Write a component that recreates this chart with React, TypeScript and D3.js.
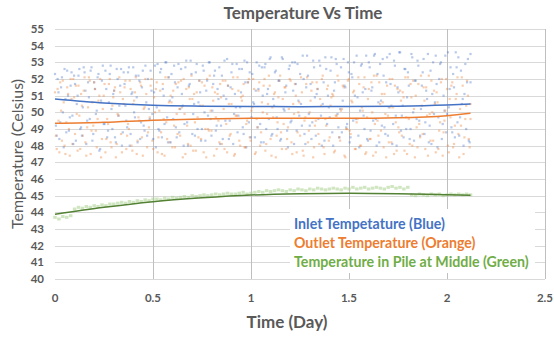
import React from 'react';
import * as d3 from 'd3';

// axis ticks
const xTicks = [0, 0.5, 1, 1.5, 2, 2.5];
const yTicks = [40, 41, 42, 43, 44, 45, 46, 47, 48, 49, 50, 51, 52, 53, 54, 55];

// samples are evenly spaced in time from day 0 to this day
const lastDay = 2.12;

// inlet readings (Celsius), two interleaved runs of samples
const inletValues = [
  52.3, 48.6, 51.2, 49.4, 52.1, 47.9, 50.8, 52.5, 48.9, 51.6,
  49.8, 52.2, 48.3, 51.0, 52.6, 49.1, 50.3, 52.4, 48.1, 51.8,
  49.6, 52.7, 48.7, 51.4, 50.1, 52.3, 47.8, 51.9, 49.3, 52.5,
  48.5, 50.6, 52.8, 49.0, 51.3, 48.2, 52.0, 50.4, 52.6, 48.8,
  51.7, 49.5, 52.4, 48.0, 51.1, 52.7, 49.7, 50.9, 52.2, 48.4,
  51.5, 49.2, 52.8, 48.6, 50.2, 52.5, 49.9, 51.2, 47.9, 52.9,
  48.9, 52.6, 51.4, 49.3, 53.0, 48.2, 50.7, 52.3, 49.6, 51.8,
  48.5, 52.9, 50.2, 51.1, 48.0, 52.7, 49.4, 51.6, 53.1, 48.7,
  50.5, 52.4, 49.0, 51.9, 48.3, 52.8, 50.0, 51.3, 49.8, 53.0,
  48.6, 51.7, 52.5, 49.2, 50.8, 48.1, 52.2, 51.0, 49.5, 53.2,
  48.4, 51.5, 52.9, 49.9, 50.3, 48.8, 52.6, 51.2, 49.1, 53.1,
  47.9, 51.8, 52.4, 49.7, 50.6, 48.5, 53.0, 51.4, 49.3, 52.7,
  48.2, 52.9, 51.1, 49.6, 53.3, 48.7, 50.4, 52.5, 49.0, 51.9,
  48.4, 53.2, 50.1, 51.6, 47.9, 52.8, 49.5, 51.3, 53.0, 48.9,
  50.7, 52.3, 49.2, 52.0, 48.1, 53.4, 49.9, 51.7, 49.4, 52.7,
  48.6, 51.4, 53.1, 49.8, 50.5, 48.3, 52.6, 51.0, 49.7, 53.3,
  48.0, 51.8, 52.9, 49.1, 50.2, 48.8, 53.2, 51.5, 49.3, 52.4,
  48.5, 52.1, 53.0, 49.6, 50.9, 47.9, 52.8, 51.2, 49.0, 53.4,
  48.3, 52.7, 51.3, 49.5, 53.5, 48.0, 50.6, 52.9, 49.2, 52.2,
  48.7, 53.3, 50.3, 51.7, 48.1, 53.1, 49.8, 51.5, 53.6, 48.9,
  50.4, 52.6, 49.0, 52.4, 48.4, 53.5, 50.0, 51.9, 49.6, 52.8,
  48.6, 51.6, 53.2, 49.4, 50.8, 48.2, 52.5, 51.1, 49.9, 53.4,
  47.9, 52.0, 53.0, 49.3, 50.1, 48.8, 53.6, 51.4, 49.1, 52.3,
  48.5, 52.7, 53.3, 49.7, 50.5, 48.0, 52.9, 51.8, 48.3, 53.5,
];
const inletValuesB = [
  49.2, 52.0, 48.4, 51.5, 50.0, 52.6, 48.8, 51.0, 49.7, 52.4,
  48.1, 51.7, 50.5, 52.2, 49.0, 48.6, 52.7, 51.3, 49.5, 50.9,
  52.5, 48.3, 51.8, 49.9, 52.1, 47.7, 50.7, 52.8, 49.3, 51.4,
  48.9, 52.3, 50.2, 51.1, 48.5, 52.6, 49.8, 51.6, 48.0, 52.4,
  50.4, 49.1, 52.7, 48.7, 51.2, 50.0, 52.2, 48.2, 51.9, 49.4,
  52.5, 48.9, 50.6, 52.0, 49.6, 51.3, 48.4, 52.8, 50.3, 49.0,
  52.4, 48.5, 51.0, 53.0, 49.7, 52.1, 48.2, 50.9, 52.8, 49.1,
  51.5, 48.8, 52.6, 50.4, 49.3, 53.1, 48.0, 51.7, 52.3, 49.9,
  48.6, 52.9, 50.6, 51.2, 49.0, 52.5, 48.3, 51.9, 53.0, 49.6,
  50.1, 52.2, 48.9, 51.4, 52.7, 49.2, 48.4, 53.1, 50.8, 51.6,
  49.5, 52.4, 48.1, 51.1, 52.9, 49.8, 50.3, 52.6, 48.7, 51.8,
  53.0, 49.4, 48.5, 52.3, 50.5, 51.3, 49.1, 52.8, 48.2, 51.0,
  52.7, 49.0, 51.4, 53.2, 48.6, 50.8, 52.4, 49.7, 51.9, 48.3,
  53.3, 50.2, 51.2, 48.9, 52.6, 49.4, 53.0, 48.1, 51.7, 52.9,
  49.8, 50.5, 53.4, 48.7, 51.5, 52.2, 49.2, 48.4, 53.1, 50.9,
  51.1, 49.6, 52.8, 48.0, 51.8, 53.3, 49.3, 50.3, 52.5, 48.8,
  51.3, 53.2, 49.9, 48.5, 52.7, 50.7, 51.6, 49.1, 53.0, 48.2,
  52.3, 49.5, 51.0, 53.4, 48.6, 50.1, 52.9, 49.8, 51.4, 48.4,
  53.0, 48.9, 51.5, 53.4, 49.6, 52.3, 48.2, 50.7, 53.2, 49.1,
  51.8, 48.6, 53.5, 50.4, 49.3, 52.8, 48.0, 51.2, 53.6, 49.8,
  48.5, 52.6, 50.9, 51.6, 49.0, 53.3, 48.3, 51.9, 53.1, 49.5,
  50.2, 52.4, 48.7, 51.3, 53.5, 49.2, 48.1, 53.0, 50.6, 51.7,
  49.7, 52.9, 48.4, 51.0, 53.4, 49.9, 50.3, 52.7, 48.8, 51.5,
  53.6, 49.4, 48.6, 52.5, 50.8, 51.1, 49.0, 53.2, 48.2, 51.8,
];

// outlet readings (Celsius), two interleaved runs of samples
const outletValues = [
  51.2, 47.8, 49.5, 51.8, 48.3, 50.6, 47.5, 51.5, 49.0, 52.0,
  48.1, 50.9, 51.6, 47.7, 49.8, 51.1, 48.6, 52.1, 47.4, 50.3,
  51.9, 48.9, 49.2, 51.4, 47.9, 50.7, 52.0, 48.4, 51.0, 47.6,
  49.6, 51.7, 48.2, 50.4, 51.3, 47.3, 49.9, 52.1, 48.7, 50.8,
  51.5, 47.8, 49.3, 51.9, 48.0, 50.5, 51.2, 47.5, 49.7, 51.8,
  48.5, 50.2, 52.0, 47.9, 49.1, 51.6, 48.3, 50.9, 51.4, 47.6,
  50.1, 48.8, 51.7, 47.4, 49.4, 52.1, 48.2, 50.6, 51.3, 47.9,
  49.9, 51.8, 48.6, 50.3, 52.0, 47.5, 49.2, 51.5, 48.0, 50.8,
  51.1, 47.7, 49.7, 51.9, 48.4, 50.4, 51.6, 47.3, 49.0, 52.2,
  48.9, 50.7, 51.2, 47.8, 49.5, 51.7, 48.1, 50.2, 51.9, 47.6,
  50.5, 48.7, 51.4, 47.4, 49.8, 52.1, 48.3, 50.9, 51.0, 47.9,
  49.3, 51.8, 48.5, 50.1, 52.0, 47.5, 49.6, 51.3, 48.0, 50.6,
  51.6, 47.7, 49.9, 52.2, 48.4, 50.3, 51.1, 47.3, 49.4, 51.9,
  48.8, 50.8, 51.5, 47.8, 49.1, 52.0, 48.2, 50.5, 51.7, 47.6,
  50.0, 48.6, 51.2, 47.4, 49.7, 52.1, 48.9, 50.7, 51.8, 47.9,
  49.5, 51.4, 48.1, 50.4, 52.2, 47.5, 49.2, 51.6, 48.5, 50.9,
  51.0, 47.7, 49.8, 51.9, 48.3, 50.2, 51.5, 47.3, 49.0, 52.0,
  48.7, 50.6, 51.3, 47.8, 49.6, 51.7, 48.0, 50.1, 52.1, 47.6,
  50.8, 48.4, 51.8, 47.4, 49.3, 52.2, 48.6, 50.5, 51.1, 47.9,
  49.9, 51.6, 48.2, 50.3, 52.0, 47.5, 49.4, 51.4, 48.8, 50.7,
  51.2, 47.7, 49.7, 52.1, 48.1, 50.9, 51.9, 47.3, 49.1, 51.7,
  48.5, 50.4, 51.5, 47.8, 49.8, 52.2, 48.3, 50.0, 51.3, 47.6,
  50.6, 48.9, 51.8, 47.4, 49.5, 52.0, 48.0, 50.8, 51.6, 47.9,
  49.2, 51.1, 48.7, 50.2, 52.1, 47.5, 49.6, 51.9, 48.4, 50.5,
];
const outletValuesB = [
  48.6, 51.4, 47.6, 50.1, 51.9, 48.0, 49.4, 51.1, 47.4, 50.8,
  52.0, 48.7, 49.9, 51.6, 47.8, 50.4, 51.3, 48.2, 49.1, 52.1,
  47.5, 50.6, 51.8, 48.9, 49.6, 51.0, 47.3, 50.2, 51.7, 48.4,
  49.3, 52.0, 47.9, 50.9, 51.5, 48.1, 49.8, 51.2, 47.6, 50.5,
  51.9, 48.6, 49.0, 51.4, 47.7, 50.7, 52.1, 48.3, 49.5, 51.6,
  47.4, 50.3, 51.1, 48.8, 49.7, 52.0, 47.8, 50.0, 51.8, 48.5,
  51.3, 47.5, 49.6, 52.1, 48.4, 50.6, 51.0, 47.9, 49.2, 51.7,
  48.7, 50.2, 51.9, 47.3, 49.9, 51.4, 48.1, 50.8, 52.2, 47.7,
  49.4, 51.2, 48.5, 50.4, 51.8, 47.6, 49.0, 52.0, 48.9, 50.1,
  51.5, 47.4, 49.7, 51.1, 48.2, 50.9, 51.9, 47.8, 49.3, 51.6,
  48.6, 50.5, 52.1, 47.5, 49.8, 51.3, 48.0, 50.7, 51.7, 47.9,
  49.5, 52.0, 48.3, 50.3, 51.4, 47.6, 49.1, 51.8, 48.8, 50.0,
  52.0, 48.1, 50.5, 51.6, 47.4, 49.7, 51.2, 48.6, 50.9, 52.2,
  47.8, 49.3, 51.5, 48.4, 50.2, 51.9, 47.5, 49.9, 51.0, 48.8,
  50.6, 52.1, 47.7, 49.5, 51.7, 48.2, 50.0, 51.3, 47.3, 49.2,
  51.8, 48.7, 50.8, 52.0, 47.9, 49.6, 51.4, 48.3, 50.4, 51.1,
  47.6, 49.8, 52.2, 48.5, 50.1, 51.6, 47.4, 49.0, 51.9, 48.9,
  50.7, 51.2, 47.8, 49.4, 52.1, 48.0, 50.3, 51.5, 47.5, 49.7,
  51.4, 48.4, 50.0, 52.2, 47.6, 49.5, 51.8, 48.9, 50.6, 51.1,
  47.3, 49.8, 52.0, 48.2, 50.3, 51.6, 47.7, 49.1, 51.3, 48.6,
  50.9, 52.1, 47.5, 49.6, 51.7, 48.0, 50.2, 51.0, 47.9, 49.3,
  52.2, 48.7, 50.7, 51.5, 47.4, 49.9, 51.9, 48.3, 50.5, 51.2,
  47.8, 49.4, 52.0, 48.8, 50.1, 51.4, 47.6, 49.7, 51.8, 48.1,
  50.8, 52.1, 47.3, 49.2, 51.6, 48.5, 50.4, 51.0, 47.9, 49.6,
];

// temperature in pile at middle (Celsius), sampled every 0.02 day
const pileValues = [
  43.7, 43.6, 43.75, 43.7, 43.8,
  44.2, 44.3, 44.25, 44.35, 44.3, 44.4, 44.35, 44.45, 44.4, 44.5,
  44.5, 44.55, 44.6, 44.55, 44.65, 44.6, 44.7, 44.65, 44.75, 44.7, 44.8,
  44.8, 44.75, 44.85, 44.8, 44.9, 44.85, 44.9, 44.95, 44.9, 45.0,
  44.95, 45.0, 45.05, 45.0, 45.05, 45.1, 45.05, 45.1, 45.15, 45.1,
  45.1, 45.15, 45.2, 45.1, 45.15,
  45.2, 45.25, 45.2, 45.3, 45.25, 45.3, 45.35, 45.3, 45.25, 45.35,
  45.3, 45.4, 45.35, 45.3, 45.4, 45.35, 45.45, 45.4, 45.35, 45.4,
  45.45, 45.4, 45.35, 45.45, 45.4, 45.5, 45.4, 45.45, 45.5, 45.4,
  45.45, 45.5, 45.45, 45.4, 45.5, 45.55, 45.45, 45.5, 45.4, 45.5,
  45.05, 45.0, 45.1, 45.05, 45.0, 45.1, 45.05, 45.1, 45.0, 45.05,
  45.1, 45.05, 45.1, 45.05, 45.1, 45.05,
];

// trend lines
const trendDays = [0, 0.25, 0.5, 0.75, 1, 1.25, 1.5, 1.75, 2, 2.12];
const inletTrend = [50.8, 50.56, 50.42, 50.37, 50.35, 50.34, 50.35, 50.37, 50.44, 50.5];
const outletTrend = [49.34, 49.4, 49.52, 49.6, 49.64, 49.65, 49.64, 49.67, 49.8, 49.94];
const pileTrend = [43.88, 44.3, 44.64, 44.87, 45.04, 45.12, 45.15, 45.12, 45.05, 45.02];

const legendLabels = [
  'Inlet Tempetature (Blue)',
  'Outlet Temperature (Orange)',
  'Temperature in Pile at Middle (Green)',
];
const legendColors = ['#4472C4', '#ED7D31', '#70AD47'];

const W = 554;
const H = 338;
const margin = { top: 29, right: 9, bottom: 59, left: 55 };
const font = 'Lato, "Open Sans", sans-serif';
const textGray = '#595959';

export default function App() {
  const x = d3.scaleLinear().domain([0, 2.5]).range([margin.left, W - margin.right]);
  const y = d3.scaleLinear().domain([40, 55]).range([H - margin.bottom, margin.top]);

  const toPoints = (vals: number[], shift: number) => {
    const step = lastDay / (vals.length - 1);
    return vals.map((v, i) => ({ t: Math.min(lastDay, (i + shift) * step), v }));
  };

  const line = d3
    .line<number>()
    .x((_, i) => x(trendDays[i]))
    .y((d) => y(d))
    .curve(d3.curveMonotoneX);

  const dots = (vals: number[], shift: number, color: string, w: number, h: number, op: number) =>
    toPoints(vals, shift).map((p, i) => (
      <rect
        key={i}
        x={x(p.t) - w / 2}
        y={y(p.v) - h / 2}
        width={w}
        height={h}
        fill={color}
        opacity={op}
      />
    ));

  return (
    <svg width={W} height={H} style={{ position: 'absolute', left: 0, top: 0, background: '#fff' }}>
      <rect width={W} height={H} fill="#fff" />
      {/* grid */}
      <g stroke="#D9D9D9" strokeWidth={1}>
        {yTicks.map((t) => (
          <line key={t} x1={x(0)} x2={x(2.5)} y1={Math.round(y(t)) + 0.5} y2={Math.round(y(t)) + 0.5} />
        ))}
        {xTicks.slice(1).map((t) => (
          <line key={t} x1={Math.round(x(t)) + 0.5} x2={Math.round(x(t)) + 0.5} y1={y(55)} y2={y(40)} stroke="#BFBFBF" />
        ))}
      </g>

      {/* scatter */}
      <g>{dots(inletValues, 0, '#4472C4', 2.2, 2.2, 0.38)}</g>
      <g>{dots(outletValues, 0, '#ED7D31', 2.2, 2.2, 0.38)}</g>
      <g>{dots(inletValuesB, 0.5, '#4472C4', 2.2, 2.2, 0.38)}</g>
      <g>{dots(outletValuesB, 0.5, '#ED7D31', 2.2, 2.2, 0.38)}</g>
      <g>{dots(pileValues, 0, '#A9D18E', 3.5, 3, 0.55)}</g>

      {/* trends */}
      <path d={line(inletTrend) || ''} fill="none" stroke="#4472C4" strokeWidth={1.5} />
      <path d={line(outletTrend) || ''} fill="none" stroke="#ED7D31" strokeWidth={1.5} />
      <path d={line(pileTrend) || ''} fill="none" stroke="#548235" strokeWidth={1.5} />

      {/* tick labels */}
      <g fontFamily={font} fontWeight="bold" fontSize={11.5} fill={textGray}>
        {yTicks.map((t) => (
          <text key={t} x={44} y={y(t)} dy="0.35em" textAnchor="end">
            {t}
          </text>
        ))}
        {xTicks.map((t) => (
          <text key={t} x={x(t)} y={298} dy="0.35em" textAnchor="middle">
            {t}
          </text>
        ))}
      </g>

      {/* titles */}
      <text x={303} y={13} dy="0.35em" textAnchor="middle" fontFamily={font} fontWeight="bold" fontSize={17} fill={textGray}>
        Temperature Vs Time
      </text>
      <text x={287} y={322} dy="0.35em" textAnchor="middle" fontFamily={font} fontWeight="bold" fontSize={17} fill={textGray}>
        Time (Day)
      </text>
      <text
        transform={`translate(17,${(y(40) + y(55)) / 2}) rotate(-90)`}
        dy="0.35em"
        textAnchor="middle"
        fontFamily={font}
        fontSize={16}
        fill={textGray}
      >
        Temperature (Celsius)
      </text>

      {/* legend */}
      <rect x={290} y={209} width={245} height={64} fill="#fff" />
      <g fontFamily={font} fontWeight="bold" fontSize={14.2}>
        {legendLabels.map((l, i) => (
          <text key={l} x={294} y={224 + i * 19} dy="0.35em" fill={legendColors[i]}>
            {l}
          </text>
        ))}
      </g>
    </svg>
  );
}
